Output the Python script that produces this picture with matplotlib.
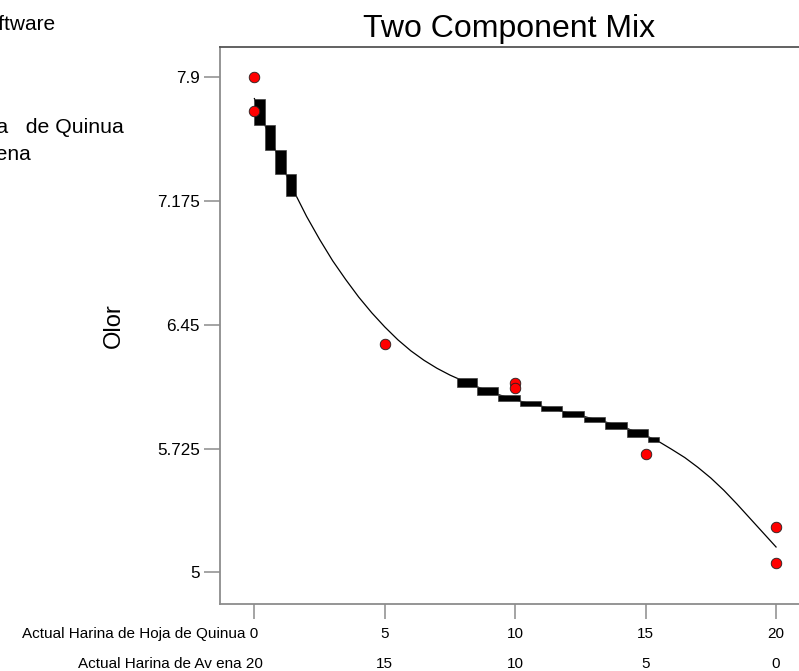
"""
Two component mixture plot (Olor vs blend of quinoa leaf / oat flour)
"""

import matplotlib
matplotlib.use('agg')
import matplotlib.pyplot as plt
import numpy as np

plt.rcParams['font.family'] = ['Liberation Sans', 'DejaVu Sans']

# design points (Actual Harina de Hoja de Quinua, Olor)
point_x = [0, 0, 5, 10, 10, 15, 20, 20]
point_y = [7.9, 7.7, 6.34, 6.11, 6.08, 5.695, 5.266, 5.057]

# fitted curve
curve_x = [0, 0.4, 0.8, 1.2, 1.6, 2.0, 2.5, 3.0, 3.5, 4.0, 4.5, 5.0, 5.5,
           6.0, 6.5, 7.0, 7.5, 7.75, 8.55, 9.35, 10.2, 11.0, 11.8, 12.65,
           13.45, 14.3, 15.1, 15.5, 16.0, 16.5, 17.0, 17.5, 18.0, 18.5,
           19.0, 19.5, 20]
curve_y = [7.775, 7.62, 7.473, 7.335, 7.206, 7.085, 6.950, 6.825, 6.715,
           6.612, 6.520, 6.437, 6.362, 6.297, 6.242, 6.195, 6.155, 6.138,
           6.086, 6.041, 6.002, 5.973, 5.943, 5.912, 5.881, 5.842, 5.794,
           5.766, 5.720, 5.672, 5.615, 5.552, 5.480, 5.400, 5.316, 5.232,
           5.148]
# curve segments that are drawn as solid blocks (start index of segment)
thick_segments = [0, 1, 2, 3, 17, 18, 19, 20, 21, 22, 23, 24, 25, 26]

y_ticks = [5, 5.725, 6.45, 7.175, 7.9]
y_tick_labels = ['5', '5.725', '6.45', '7.175', '7.9']
x_ticks = [0, 5, 10, 15, 20]
row1_labels = ['0', '5', '10', '15', '20']
row2_labels = ['20', '15', '10', '5', '0']
row1_name = 'Actual Harina de Hoja de Quinua'
row2_name = 'Actual Harina de Av ena'

grey = '#8c8c8c'

figure = plt.figure(figsize=(7.99, 6.71), dpi=100)
axes = figure.add_axes([220 / 799, 67 / 671, 579 / 799, 557.3 / 671])

axes.plot(curve_x, curve_y, color='black', linewidth=0.9, zorder=2)

seg_x0 = np.array([curve_x[i] for i in thick_segments])
seg_x1 = np.array([curve_x[i + 1] for i in thick_segments])
seg_top = np.array([curve_y[i] for i in thick_segments])
seg_bot = np.array([curve_y[i + 1] for i in thick_segments])
axes.bar(seg_x0, seg_top - seg_bot, width=seg_x1 - seg_x0, bottom=seg_bot,
         align='edge', color='black', edgecolor='#404040', linewidth=0.5,
         zorder=3)

axes.plot(point_x, point_y, linestyle='', marker='o', markersize=7.6,
          markerfacecolor='red', markeredgecolor='#202020',
          markeredgewidth=0.6, zorder=4)

axes.set_xlim(-1.319, 20.88)
axes.set_ylim(4.814, 8.079)

for side in ['left', 'bottom', 'top']:
    axes.spines[side].set_color(grey)
    axes.spines[side].set_linewidth(1.3)
axes.spines['top'].set_color('#555555')
axes.spines['right'].set_visible(False)

axes.set_yticks(y_ticks)
axes.set_yticklabels(y_tick_labels)
axes.tick_params(axis='y', direction='out', length=11.5, width=1.1,
                 color=grey, labelsize=12.3, pad=3)
axes.set_xticks(x_ticks)
axes.tick_params(axis='x', direction='out', length=11, width=1.1,
                 color=grey, labelbottom=False)

# two rows of x labels, first label carries the component name
for i, x in enumerate(x_ticks):
    for lab, name, offset, half in [(row1_labels[i], row1_name, -24.5, 3.0),
                                    (row2_labels[i], row2_name, -46, 6.0)]:
        if i == 0:
            axes.annotate(name + ' ' + lab, xy=(x, 0),
                          xycoords=('data', 'axes fraction'),
                          xytext=(half, offset), textcoords='offset points',
                          ha='right', va='baseline', fontsize=11)
        else:
            axes.annotate(lab, xy=(x, 0), xycoords=('data', 'axes fraction'),
                          xytext=(0, offset), textcoords='offset points',
                          ha='center', va='baseline', fontsize=11)

axes.set_ylabel('Olor', fontsize=17, labelpad=23)
axes.set_title('Two Component Mix', fontsize=23, pad=7)

# legend text block at the left, cut by the figure edge
figure.text(55 / 799, 1 - 30 / 671, 'Design-Expert\u00ae Software',
            ha='right', va='baseline', fontsize=15)
figure.text(123.5 / 799, 1 - 133 / 671, 'X1 = A: Harina de Hoja   de Quinua',
            ha='right', va='baseline', fontsize=15.3)
figure.text(30.7 / 799, 1 - 160 / 671, 'X2 = B: Harina de Avena',
            ha='right', va='baseline', fontsize=15)

figure.savefig('out.png', dpi=100)
